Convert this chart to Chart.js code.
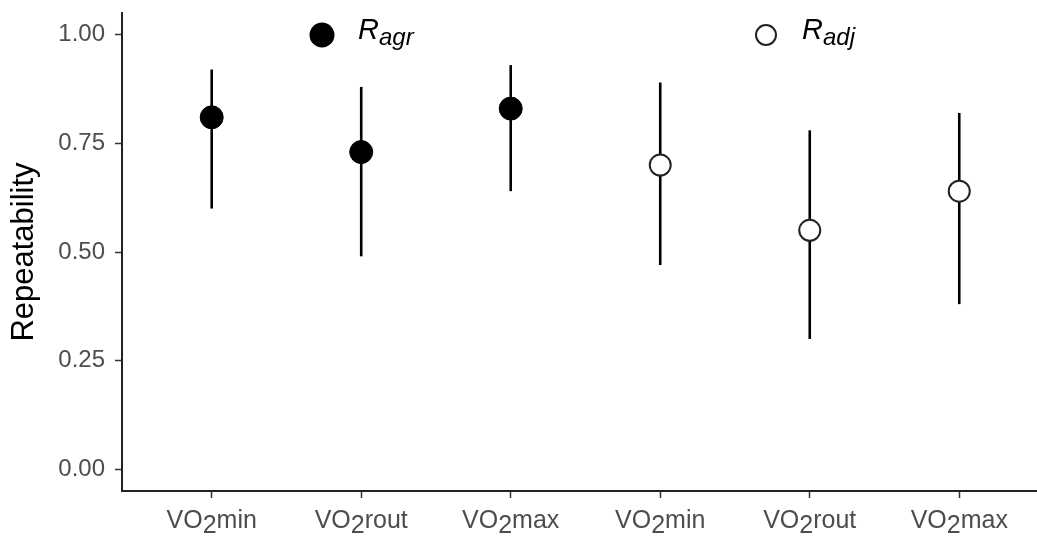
<!DOCTYPE html>
<html>
<head>
<meta charset="utf-8">
<script src="https://cdn.jsdelivr.net/npm/chart.js@4"></script>
<style>
  html, body { margin: 0; padding: 0; background: #fff; }
  #wrap { width: 1037px; height: 537px; }
</style>
</head>
<body>
<div id="wrap"><canvas id="repChart" width="1037" height="537"></canvas></div>
<script>
// Categories (x positions 1..6)
const categories = ["VO2min", "VO2rout", "VO2max", "VO2min", "VO2rout", "VO2max"];

// R agr (filled points)
const agrEstimate = [0.81, 0.73, 0.83];
const agrLower = [0.60, 0.49, 0.64];
const agrUpper = [0.92, 0.88, 0.93];

// R adj (open points)
const adjEstimate = [0.70, 0.55, 0.64];
const adjLower = [0.47, 0.30, 0.38];
const adjUpper = [0.89, 0.78, 0.82];

const yTicks = [0, 0.25, 0.5, 0.75, 1];

const FONT = "'Liberation Sans', Arial, Helvetica, sans-serif";
const GREY = "#4d4d4d";

const agrPoints = agrEstimate.map((v, i) => ({ x: i + 1, y: v, lo: agrLower[i], hi: agrUpper[i] }));
const adjPoints = adjEstimate.map((v, i) => ({ x: i + 4, y: v, lo: adjLower[i], hi: adjUpper[i] }));

// Vertical interval lines drawn under the points
const errorBars = {
  id: "errorBars",
  beforeDatasetsDraw(chart) {
    const { ctx, scales } = chart;
    ctx.save();
    ctx.strokeStyle = "#000";
    ctx.lineWidth = 2.6;
    chart.data.datasets.forEach((ds) => {
      ds.data.forEach((p) => {
        const x = scales.x.getPixelForValue(p.x);
        ctx.beginPath();
        ctx.moveTo(x, scales.y.getPixelForValue(p.lo));
        ctx.lineTo(x, scales.y.getPixelForValue(p.hi));
        ctx.stroke();
      });
    });
    ctx.restore();
  },
};

// x labels with a lowered "2", plus the in-plot legend
const labelsAndLegend = {
  id: "labelsAndLegend",
  afterDraw(chart) {
    const { ctx, scales, chartArea } = chart;
    ctx.save();
    ctx.fillStyle = GREY;
    ctx.font = "25px " + FONT;
    ctx.textBaseline = "alphabetic";
    ctx.textAlign = "left";
    categories.forEach((label, i) => {
      const k = label.indexOf("2");
      const head = label.slice(0, k);
      const sub = label.slice(k, k + 1);
      const tail = label.slice(k + 1);
      const w1 = ctx.measureText(head).width;
      const w2 = ctx.measureText(sub).width;
      const w3 = ctx.measureText(tail).width;
      let x = scales.x.getPixelForValue(i + 1) - (w1 + w2 + w3) / 2;
      const base = chartArea.bottom + 37;
      ctx.fillText(head, x, base);
      ctx.fillText(sub, x + w1, base + 5);
      ctx.fillText(tail, x + w1 + w2, base);
    });

    // legend
    const items = [
      { x: 322, fill: "#000", sub: "agr" },
      { x: 766, fill: "#fff", sub: "adj" },
    ];
    const cy = 35;
    items.forEach((it) => {
      ctx.beginPath();
      ctx.arc(it.x, cy, it.fill === "#000" ? 11.5 : 10, 0, Math.PI * 2);
      ctx.fillStyle = it.fill;
      ctx.fill();
      ctx.lineWidth = 2;
      ctx.strokeStyle = it.fill === "#000" ? "#000" : "#222";
      ctx.stroke();
      ctx.fillStyle = "#000";
      ctx.font = "italic 29px " + FONT;
      const rx = it.x + 36;
      ctx.fillText("R", rx, cy + 4);
      const rw = ctx.measureText("R").width;
      ctx.font = "italic 24px " + FONT;
      ctx.fillText(it.sub, rx + rw, cy + 10);
    });
    ctx.restore();
  },
};

const ctx = document.getElementById("repChart").getContext("2d");
const repChart = new Chart(ctx, {
  type: "scatter",
  data: {
    datasets: [
      {
        label: "R agr",
        data: agrPoints,
        pointRadius: 11.5,
        pointHoverRadius: 11.5,
        backgroundColor: "#000",
        borderColor: "#000",
        borderWidth: 1,
      },
      {
        label: "R adj",
        data: adjPoints,
        pointRadius: 10.5,
        pointHoverRadius: 10.5,
        backgroundColor: "#fff",
        borderColor: "#222",
        borderWidth: 2,
      },
    ],
  },
  options: {
    responsive: false,
    animation: false,
    layout: { autoPadding: false, padding: { top: 13, left: 0, right: 0, bottom: 0 } },
    scales: {
      x: {
        type: "linear",
        min: 0.4,
        max: 6.52,
        afterBuildTicks: (scale) => {
          scale.ticks = categories.map((c, i) => ({ value: i + 1 }));
        },
        afterFit: (scale) => {
          scale.height = 46;
          scale.paddingLeft = 0;
          scale.paddingRight = 0;
        },
        ticks: {
          callback: () => "",
        },
        grid: {
          display: true,
          drawOnChartArea: false,
          drawTicks: true,
          tickLength: 7,
          tickColor: "#333",
          tickWidth: 1.5,
        },
        border: { display: true, color: "#222", width: 2 },
      },
      y: {
        min: -0.05,
        max: 1.05,
        afterBuildTicks: (scale) => {
          scale.ticks = yTicks.map((v) => ({ value: v }));
        },
        afterFit: (scale) => {
          scale.width = 122;
          scale.paddingTop = 0;
          scale.paddingBottom = 0;
        },
        ticks: {
          color: GREY,
          font: { family: FONT, size: 24 },
          padding: 10,
          callback: (v) => Number(v).toFixed(2),
        },
        grid: {
          display: true,
          drawOnChartArea: false,
          drawTicks: true,
          tickLength: 7,
          tickColor: "#333",
          tickWidth: 1.5,
        },
        border: { display: true, color: "#222", width: 2 },
        title: {
          display: true,
          text: "Repeatability",
          color: "#000",
          font: { family: FONT, size: 31 },
          padding: { top: 6, bottom: 0 },
        },
      },
    },
    plugins: {
      legend: { display: false },
      tooltip: { enabled: false },
    },
  },
  plugins: [errorBars, labelsAndLegend],
});
</script>
</body>
</html>
